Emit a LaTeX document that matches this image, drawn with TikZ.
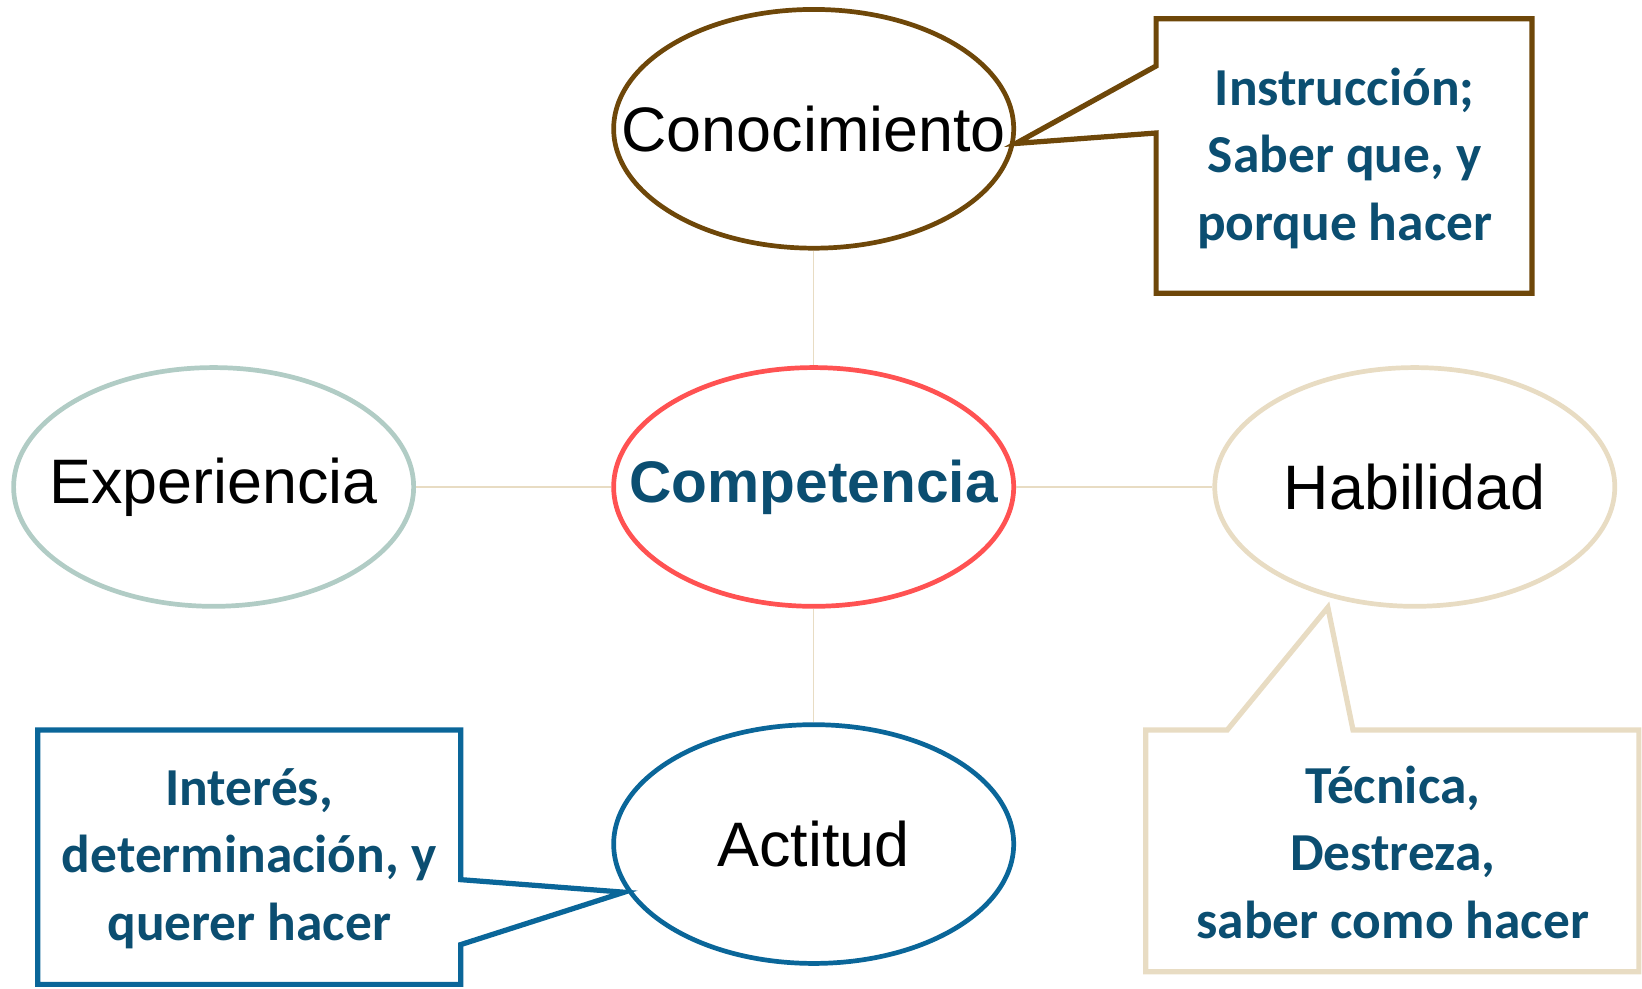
\documentclass[tikz,border=0pt]{standalone}
\usepackage{fontspec}
\setmainfont{Liberation Sans}
\newfontfamily\callfont{Carlito}
\usetikzlibrary{shapes.geometric}
\definecolor{brownc}{HTML}{6E4709}
\definecolor{redc}{HTML}{FF5252}
\definecolor{greenc}{HTML}{B1CCC5}
\definecolor{beigec}{HTML}{E8DCC3}
\definecolor{bluec}{HTML}{0A6699}
\definecolor{textc}{HTML}{0B4E71}
\tikzset{
  oval/.style={ellipse, draw, line width=4.5pt, minimum width=382pt, minimum height=228pt, inner sep=0pt},
  ovaltext/.style={font=\fontsize{60}{70}\selectfont, inner sep=0pt},
  link/.style={draw=beigec, line width=1.5pt},
  calltext/.style={align=center, text=textc, font=\callfont\bfseries\fontsize{51}{64.5}\selectfont},
  callbord/.style={line width=5pt, line join=miter}
}
\begin{document}
\begin{tikzpicture}[x=1pt,y=-1pt]
\useasboundingbox (0,0) rectangle (1568,943.5);
% ellipses
\node[oval, draw=brownc, label={[ovaltext]center:Conocimiento}] (con) at (777,123) {};
\node[oval, draw=redc, label={[ovaltext, text=textc, font=\bfseries\fontsize{56}{66}\selectfont]center:Competencia}] (comp) at (777,465) {};
\node[oval, draw=greenc, label={[ovaltext]center:Experiencia}] (exp) at (204,465) {};
\node[oval, draw=beigec, label={[ovaltext]center:Habilidad}] (hab) at (1351,465) {};
\node[oval, draw=bluec, label={[ovaltext]center:Actitud}] (act) at (777,806) {};
% connectors
\draw[link] (con) -- (comp);
\draw[link] (comp) -- (act);
\draw[link] (exp) -- (comp);
\draw[link] (comp) -- (hab);
% callout texts
\node[calltext] (ins) at (1284,151) {Instrucción;\\Saber que, y\\porque hacer};
\node[calltext] (tec) at (1330,814) {Técnica,\\Destreza,\\saber como hacer};
\node[calltext] (int) at (238,820) {Interés,\\determinación, y\\querer hacer};
% callout tips
\coordinate (tipcon) at (970,137);
\coordinate (tiphab) at (1268,580);
\coordinate (tipact) at (596,852);
% callout borders
\draw[callbord, draw=brownc] (1104,18) -- (1463,18) -- (1463,280) -- (1104,280) -- (1104,127) -- (tipcon) -- (1104,63) -- cycle;
\draw[callbord, draw=beigec] (1094,697) -- (1172,697) -- (tiphab) -- (1292,697) -- (1565,697) -- (1565,928) -- (1094,928) -- cycle;
\draw[callbord, draw=bluec] (36,697) -- (440,697) -- (440,840) -- (tipact) -- (440,902) -- (440,940) -- (36,940) -- cycle;
\end{tikzpicture}
\end{document}
